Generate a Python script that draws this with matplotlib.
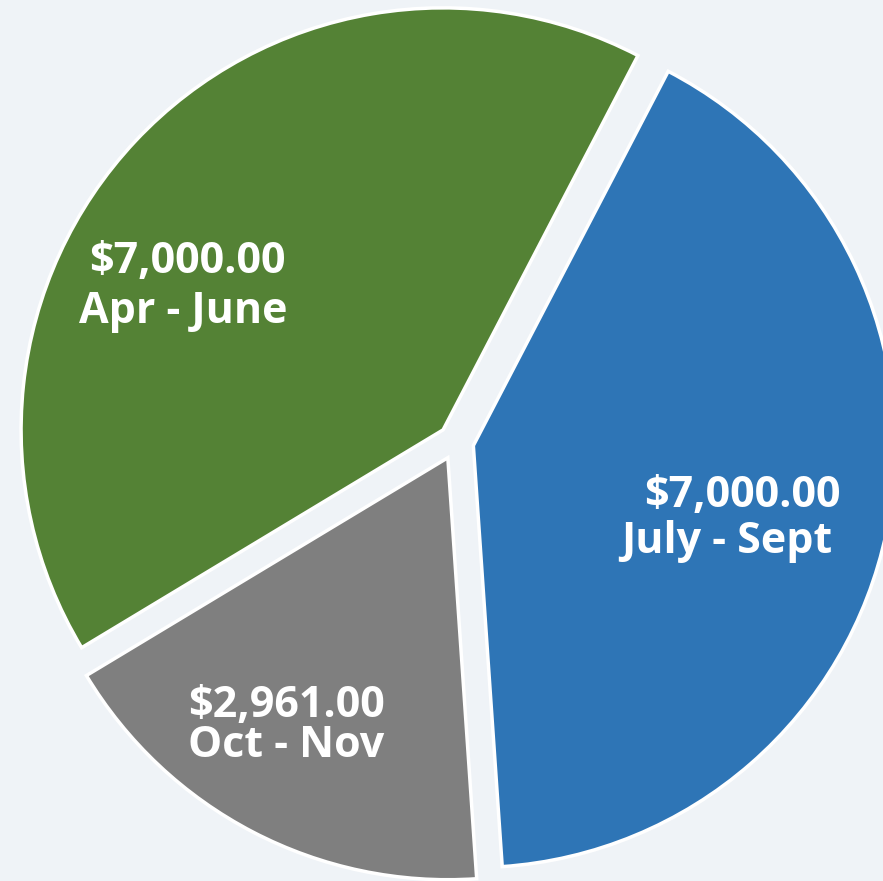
import matplotlib.pyplot as plt

# slice data, in drawing order (clockwise from the top)
periods = ["July - Sept", "Oct - Nov", "Apr - June"]
amounts = [7000.00, 2961.00, 7000.00]
colors = ["#2e75b6", "#7f7f7f", "#548235"]

# label anchor points in pixels (x centre, baseline y) for value / period lines
label_px = {
    "July - Sept": [(742, 507), (727, 553)],
    "Oct - Nov": [(287, 717), (286, 757)],
    "Apr - June": [(187, 273), (183, 323)],
}

W, H = 883, 881
fig = plt.figure(figsize=(W / 100, H / 100), dpi=100)
fig.patch.set_facecolor("#eff3f7")
ax = fig.add_axes([0, 0, 1, 1])
ax.set_facecolor("#eff3f7")

R = 422.0        # pie radius in pixels
cx, cy = 456, 442  # pie centre in pixels
ax.pie(amounts, colors=colors, startangle=62.5, counterclock=False,
       explode=[0.042] * 3, radius=1,
       wedgeprops=dict(edgecolor="white", linewidth=2.5))
ax.set_xlim(-cx / R, (W - cx) / R)
ax.set_ylim(-(H - cy) / R, cy / R)
ax.set_aspect("auto")
ax.axis("off")

for name, amt in zip(periods, amounts):
    (x1, y1), (x2, y2) = label_px[name]
    fig.text(x1 / W, 1 - y1 / H, "${:,.2f}".format(amt), ha="center", va="baseline",
             color="white", fontsize=31, fontweight="bold", family="Open Sans")
    fig.text(x2 / W, 1 - y2 / H, name, ha="center", va="baseline",
             color="white", fontsize=31, fontweight="bold", family="Open Sans")

fig.savefig("out.png", dpi=100, facecolor=fig.get_facecolor())
